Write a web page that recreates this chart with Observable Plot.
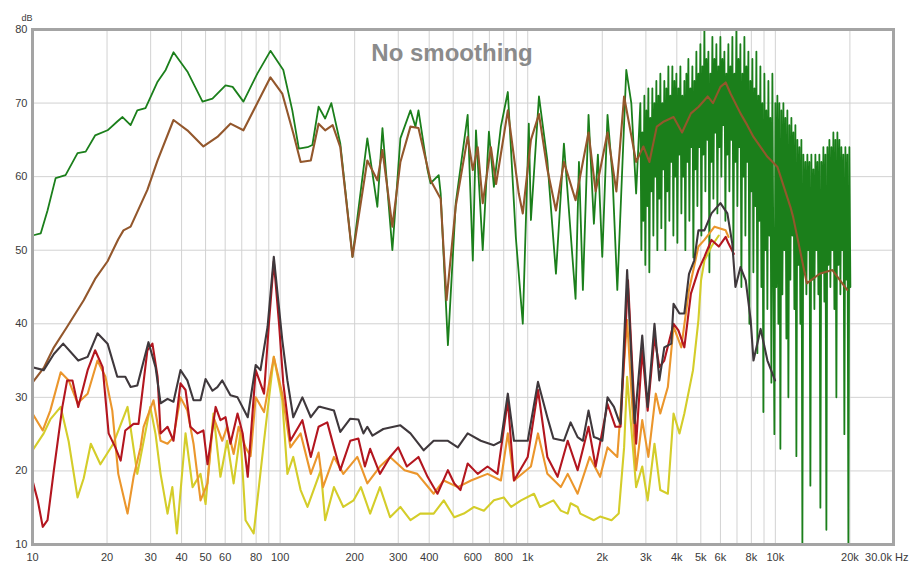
<!DOCTYPE html>
<html>
<head>
<meta charset="utf-8">
<script src="https://cdn.jsdelivr.net/npm/d3@7"></script>
<script src="https://cdn.jsdelivr.net/npm/@observablehq/plot@0.6"></script>
<style>
  html, body { margin: 0; padding: 0; background: #ffffff; }
  #chart { width: 914px; height: 568px; }
</style>
</head>
<body>
<div id="chart"></div>
<script>
// ---------- tick labels ----------
const xTickValues = [10, 20, 30, 40, 50, 60, 80, 100, 200, 300, 400, 600, 800, 1000, 2000, 3000, 4000, 5000, 6000, 8000, 10000, 20000];
const xTickLabels = ["10", "20", "30", "40", "50", "60", "80", "100", "200", "300", "400", "600", "800", "1k", "2k", "3k", "4k", "5k", "6k", "8k", "10k", "20k"];
const xLastLabel = "30.0k Hz";
const xGridValues = [20, 30, 40, 50, 60, 70, 80, 90, 100, 200, 300, 400, 500, 600, 700, 800, 900, 1000, 2000, 3000, 4000, 5000, 6000, 7000, 8000, 9000, 10000, 20000];
const yTickValues = [10, 20, 30, 40, 50, 60, 70, 80];
const yGridValues = [20, 30, 40, 50, 60, 70];
const titleText = "No smoothing";
const yUnit = "dB";

// ---------- series: [frequency Hz, level dB] ----------
const green = [
  [10,52.0],[10.8,52.3],[11.5,55.4],[12.4,59.8],[13.6,60.2],[15.2,63.2],[16.4,63.4],[17.9,65.6],[20.1,66.3],[22.0,67.5],
  [23.1,68.1],[24.9,67.0],[26.5,69.0],[28.6,69.3],[32.0,72.9],[34.5,74.5],[37.1,76.9],[42.2,74.3],[48.6,70.2],[53.3,70.6],
  [60.2,72.4],[64.3,72.2],[71.1,70.2],[80.9,74.0],[91.4,77.1],[103,74.5],[112,69.0],[119,63.8],[129,64.0],[135,64.3],
  [143,69.5],[152,67.9],[161,70.0],[175,64.5],[196,49.1],[225,65.2],[247,55.9],[259,66.6],[284,50.0],[306,65.2],
  [336,69.0],[352,66.8],[362,69.0],[394,60.9],[405,59.1],[437,60.2],[445,57.7],[476,37.1],[512,56.4],[572,68.4],
  [600,48.6],[618,66.3],[658,50.0],[697,66.1],[730,58.6],[779,66.8],[831,71.5],[895,51.8],[955,40.0],[1010,67.2],
  [1030,54.1],[1110,70.9],[1200,62.2],[1300,46.8],[1400,64.5],[1560,43.4],[1610,62],[1670,44.6],[1760,68.4],[1850,53.6],
  [1920,63],[2000,49.1],[2100,68.4],[2200,60],[2300,44.6],[2500,74.5],[2620,70],[2740,57.7],
  [2850,70],[2877,50],[2903,66],[2930,54],[2958,71],[2985,48],[3013,69],[3041,56],[3070,72],[3098,47],
  [3127,68],[3156,58],[3186,72],[3216,52],[3246,70],[3276,60],[3307,73],[3338,50],[3369,71],[3400,57],
  [3432,74],[3464,53],[3497,70],[3529,61],[3562,73],[3596,50],[3629,72],[3663,58],[3698,75],[3732,54],
  [3767,71],[3802,62],[3838,75],[3874,52],[3910,73],[3947,60],[3984,74],[4021,51],[4058,72],[4096,63],
  [4135,75],[4173,55],[4212,71],[4252,60],[4291,73],[4331,50],[4372,74],[4413,62],[4454,76],[4496,54],
  [4538,72],[4580,64],[4623,75],[4666,49],[4710,73],[4754,61],[4798,77],[4843,56],[4888,74],[4934,64],
  [4980,78],[5027,52],[5074,75],[5121,63],[5169,80],[5217,58],[5266,76],[5315,65],[5365,77],[5415,47],
  [5466,74],[5517,62],[5568,79],[5620,57],[5673,76],[5726,66],[5779,78],[5833,55],[5888,75],[5943,64],
  [5998,79],[6054,60],[6111,76],[6168,67],[6226,77],[6284,54],[6342,74],[6402,63],[6461,78],[6522,58],
  [6583,75],[6644,65],[6706,79],[6769,50],[6832,74],[6896,62],[6960,80],[7025,56],[7091,76],[7157,64],
  [7224,78],[7292,45],[7360,74],[7428,60],[7498,79],[7568,52],[7638,75],[7710,62],[7782,77],[7854,40],
  [7928,73],[8002,58],[8077,76],[8152,47],[8228,72],[8305,56],[8383,77],[8461,36],[8540,71],[8620,54],
  [8700,75],[8781,45],[8863,70],[8946,28],[9030,74],[9114,50],[9199,69],[9285,42],[9372,73],[9460,52],
  [9548,68],[9637,32],[9727,74],[9818,48],[9910,25],[10002,70],
  [10095,45],[10190,71],[10285,40],[10381,70],[10478,23],[10576,69],[10675,44],[10775,70],[10876,50],[10977,68],
  [11080,38],[11183,69],[11288,30],[11393,67],[11500,46],[11607,68],[11716,52],[11825,66],[11935,42],[12047,67],
  [12159,22],[12273,65],[12388,48],[12503,64],[12620,40],[12738,65],[12857,10],[12977,63],[13098,47],[13221,62],
  [13344,44],[13469,63],[13595,50],[13722,62],[13850,18],[13979,63],[14110,46],[14242,61],[14375,42],[14509,63],
  [14645,50],[14781,62],[14919,44],[15059,63],[15200,15],[15342,62],[15485,47],[15630,64],[15776,43],[15923,63],
  [16072,12],[16222,64],[16374,48],[16527,65],[16681,45],[16837,64],[16994,50],[17153,66],[17313,42],[17475,65],
  [17638,30],[17803,66],[17969,48],[18137,65],[18307,44],[18478,64],[18650,50],[18824,63],[19000,25],[19178,64],
  [19357,46],[19538,63],[19720,10],[19904,64],[20090,45]
];

const brown = [
  [10,32.0],[11.1,34.0],[12.2,36.8],[13.8,39.6],[16.1,43.2],[17.9,46.1],[20.1,48.5],[22.2,51.5],[23.3,52.7],[24.9,53.2],
  [29.1,58.2],[32.0,62.2],[37.1,67.7],[42.2,66.3],[49.0,64.1],[55.8,65.4],[63.0,67.2],[71.1,66.3],[80.9,70.0],[91.4,73.5],
  [102,71.3],[113,65.9],[121,62.0],[133,62.2],[143,67.2],[152,66.3],[163,67.0],[175,64.0],[196,49.1],[225,62.2],
  [247,59.5],[259,63.6],[284,53.2],[306,62],[336,66.8],[362,66.6],[405,59.5],[445,57.0],[470,43.2],[512,56],
  [572,65.4],[600,60.9],[628,64],[658,56.4],[710,64],[745,59],[831,69.0],[920,57.7],[955,55.0],[1030,65],
  [1110,68.5],[1200,61],[1300,55.4],[1400,62],[1560,56.8],[1760,66],[1880,58],[1960,60.9],[2100,66],[2280,58],
  [2450,70.9],[2740,62],[2930,64.1],[3100,62],[3320,66.8],[3550,67.5],[3880,68.1],[4200,66],[4560,68.6],[4900,69.5],
  [5330,70.9],[5600,70],[6000,72.2],[6300,72.8],[6590,71.3],[7230,68.6],[7700,67],[8160,65.4],[9290,62.7],[10200,61.3],
  [11500,55.9],[11800,54.5],[13400,45.5],[15100,46.8],[17000,47.3],[19500,44.6]
];

const dark = [
  [10,34.1],[11.1,33.7],[12.2,35.9],[13.3,37.3],[15.3,35.0],[16.7,35.5],[18.3,38.7],[20.1,37.3],[22.0,32.8],[23.7,32.8],
  [24.9,31.4],[26.5,31.6],[29.4,37.5],[31.4,34.1],[32.9,29.2],[35.1,29.8],[37.1,29.4],[39.6,33.7],[42.2,32.3],[44.7,29.6],
  [47.7,29.6],[50.0,32.5],[53.3,30.9],[55.8,31.4],[58.4,32.3],[63.0,30.3],[67.3,30.0],[74.0,27.3],[79.7,34.4],[83.3,33.7],
  [89.0,39.6],[94.3,49.1],[102,37.8],[107,32.3],[113,27.3],[123,30.0],[133,27.3],[143,28.7],[146,28.7],[165,28.2],
  [175,25.3],[192,27.1],[207,27.0],[217,25.1],[225,26.0],[236,24.8],[261,25.7],[306,26.2],[336,25.1],[380,22.8],
  [417,24.1],[476,24.1],[522,23.2],[572,25.1],[646,24.1],[730,23.5],[779,24.0],[831,30.5],[880,24.1],[1000,24.1],
  [1100,32.1],[1200,27.3],[1270,24.4],[1400,24.1],[1490,26.6],[1590,24.6],[1670,24.1],[1760,28.2],[1850,24.6],[1920,24.4],
  [2000,24.1],[2100,30.0],[2230,28.7],[2330,26.9],[2370,26.4],[2520,47.3],[2700,26.5],[2900,38.4],[3050,28.7],[3250,40.0],
  [3400,32.3],[3560,36.8],[3800,37.3],[3880,42.7],[4100,41.4],[4290,41.4],[4480,46.8],[4700,48.6],[4890,52.7],[5170,52.7],
  [5520,55.0],[6000,56.4],[6400,55.0],[6700,50.9],[6900,45.0],[7230,47.7],[7590,45.9],[7950,40.5],[8160,35.0],[8720,39.3],
  [9290,35.0],[9970,32.3]
];

const red = [
  [10,18.7],[10.5,16.0],[11.0,12.4],[11.5,13.3],[12.2,20.1],[13.2,28.7],[13.8,32.3],[14.5,32.3],[15.3,28.7],[16.7,33.7],
  [17.9,36.4],[19.2,34.1],[20.3,25.1],[21.6,23.2],[22.7,21.4],[23.7,25.5],[25.6,26.4],[26.8,26.4],[29.1,36.4],[30.5,37.3],
  [32.0,32.8],[32.9,25.1],[35.1,26.0],[37.1,24.1],[39.6,31.9],[41.5,31.0],[43.4,26.0],[46.4,25.1],[49.0,25.5],[50.9,20.9],
  [54.9,28.7],[57.4,26.9],[60.2,27.3],[63.0,23.7],[67.3,27.8],[70.6,25.1],[74.0,19.2],[79.7,33.7],[86.1,30.5],[90.1,40],
  [94.3,48.5],[99,40],[103,31.9],[110,24.1],[123,26.9],[133,21.9],[143,26.0],[155,26.6],[165,23.2],[175,20.1],
  [192,24.1],[207,24.4],[220,20.6],[231,23.0],[253,19.6],[278,21.9],[300,23.2],[325,20.6],[362,21.9],[394,19.2],
  [432,16.9],[476,20.1],[505,18.3],[535,17.4],[572,21.0],[628,19.6],[688,20.6],[755,19.6],[831,29.6],[880,18.7],
  [1000,21.9],[1100,31.0],[1200,21.9],[1320,19.2],[1450,24.1],[1590,20.1],[1760,26.0],[1880,20.6],[2100,29.1],[2260,26.0],
  [2370,26.0],[2540,45.9],[2740,23.7],[2900,36.4],[3050,28.2],[3250,38.2],[3400,34.1],[3560,35.0],[3880,40.0],[4060,39.1],
  [4290,36.8],[4560,44.1],[4890,47.3],[5170,49.1],[5520,51.4],[5910,50.5],[6300,51.8],[6470,50.9],[6800,49.5]
];

const orange = [
  [10,27.8],[11.0,25.5],[11.8,28.2],[13.0,33.4],[14.0,32.3],[15.2,29.2],[16.7,30.5],[18.3,35.0],[19.7,32.8],[21.0,28.2],
  [22.2,19.6],[24.2,14.2],[25.6,19.2],[27.3,23.2],[28.1,26.0],[30.8,29.6],[32.9,24.1],[35.1,23.7],[37.1,24.6],[39.6,30.0],
  [42.2,28.2],[44.7,23.7],[47.7,16.0],[50.9,18.3],[53.8,27.3],[58.4,24.1],[61.1,26.0],[64.9,22.3],[68.0,26.0],[72.5,23.2],
  [76.0,22.0],[79.7,30.0],[86.1,28],[94.3,35.5],[102,30.5],[110,23.2],[121,25.1],[133,19.6],[143,22.5],[149,17.8],
  [165,21.9],[180,19.6],[205,21.9],[225,18.3],[253,20.6],[278,21.9],[318,20.1],[358,19.6],[417,16.9],[458,18.7],
  [522,17.8],[590,18.7],[688,19.6],[779,18.7],[831,25.1],[880,18.7],[1030,20.6],[1100,25.1],[1200,19.6],[1360,17.8],
  [1450,19.6],[1590,16.9],[1780,21.9],[1960,19.2],[2100,23.2],[2300,21.9],[2520,40.5],[2740,20.1],[2900,26.9],[3070,21.9],
  [3290,30.5],[3430,27.8],[3680,31.4],[3880,39.6],[4170,36.8],[4480,44.6],[4890,50.5],[5170,51.4],[5680,53.2],[6300,52.7],
  [6470,51.8]
];

const yellow = [
  [10,22.8],[11.1,25.1],[11.8,27],[13.0,28.7],[14.0,24],[15.2,16.4],[16.1,19],[17.2,23.7],[18.8,20.9],[21.2,23.7],
  [24.2,28.7],[26.5,19.6],[29.9,28.7],[31.4,25],[32.9,19.6],[35.1,14.2],[36.7,17.8],[38.3,11.5],[41.5,25.1],[44.3,17.8],
  [47.7,19.6],[50.0,15.5],[53.8,27.8],[57.4,19.2],[61.1,24.1],[64.9,18.3],[69.1,25.1],[72.5,13.3],[78.2,11.5],[86.1,24.1],
  [94.3,35.5],[102,29.6],[107,19.6],[113,21.9],[121,17.4],[129,15.1],[146,20.1],[152,13.3],[165,17.8],[180,15.1],
  [198,16.0],[212,17.8],[231,14.2],[253,17.8],[278,13.7],[306,15.1],[336,13.3],[368,14.2],[417,14.2],[458,16.0],
  [505,13.7],[552,14.2],[607,15.1],[665,14.6],[730,16.0],[800,16.4],[857,15.1],[940,16.0],[1060,16.9],[1120,15.1],
  [1270,16.0],[1360,14.6],[1450,14.2],[1490,15.6],[1590,15.1],[1630,14.2],[1850,13.3],[1960,13.8],[2180,13.3],[2330,14.2],
  [2450,23.2],[2520,32.8],[2740,17.8],[2900,20.6],[3050,16.0],[3250,23.7],[3430,17.4],[3680,16.9],[3880,27.8],[4100,25.1],
  [4290,27.8],[4650,33.7],[4890,40.5],[5010,45.9],[5170,48.6],[5520,50.5],[5910,52.0]
];

const seriesNames = ["green", "brown", "yellow", "orange", "red", "dark"];
const seriesColors = ["#1b7f1b", "#93572c", "#d4cd2a", "#eb962c", "#b3161f", "#3f383c"];
const seriesWidths = [1.8, 2.1, 2.1, 2.1, 2.1, 2.1];
const seriesData = [green, brown, yellow, orange, red, dark];

// ---------- build table ----------
const rows = [];
seriesData.forEach((s, k) => {
  s.forEach(([f, db]) => rows.push({series: seriesNames[k], w: seriesWidths[k], f, db}));
});
const xTicks = xTickValues.map((v, i) => ({v, label: xTickLabels[i]}));

const fontFam = "'Liberation Sans', Arial, Helvetica, sans-serif";

const chart = Plot.plot({
  width: 914,
  height: 568,
  marginLeft: 32,
  marginRight: 21,
  marginTop: 29,
  marginBottom: 24,
  style: {fontFamily: fontFam, background: "#ffffff", color: "#3a3a3a", overflow: "visible"},
  x: {type: "log", domain: [10, 30000], label: null, axis: null},
  y: {domain: [10, 80], label: null, axis: null},
  color: {domain: seriesNames, range: seriesColors},
  marks: [
    Plot.ruleX(xGridValues, {stroke: "#d2d2d2", strokeWidth: 1}),
    Plot.ruleY(yGridValues, {stroke: "#d2d2d2", strokeWidth: 1}),
    Plot.line(rows, {
      x: "f", y: "db", z: "series", stroke: "series",
      strokeWidth: "w",
      clip: true, strokeLinejoin: "round"
    }),
    Plot.frame({stroke: "#a4a4a4", strokeWidth: 3}),
    Plot.text(xTicks, {x: "v", text: "label", frameAnchor: "bottom", dy: 16, fontSize: 11, fill: "#3a3a3a"}),
    Plot.text(yTickValues, {y: d => d, text: d => String(d), frameAnchor: "left", dx: -5, textAnchor: "end", fontSize: 11, fill: "#3a3a3a"}),
    Plot.text([xLastLabel], {x: [30000], frameAnchor: "bottom", dx: 15, dy: 16, textAnchor: "end", fontSize: 11, fill: "#3a3a3a"}),
    Plot.text([yUnit], {frameAnchor: "top-left", dx: -11, dy: -15, fontSize: 9, fill: "#3a3a3a"}),
    Plot.text([titleText], {frameAnchor: "top", dx: -11, dy: 14, fontSize: 24, fontWeight: "bold", fill: "#8b8b8b"})
  ]
});
document.getElementById("chart").appendChild(chart);
</script>
</body>
</html>
